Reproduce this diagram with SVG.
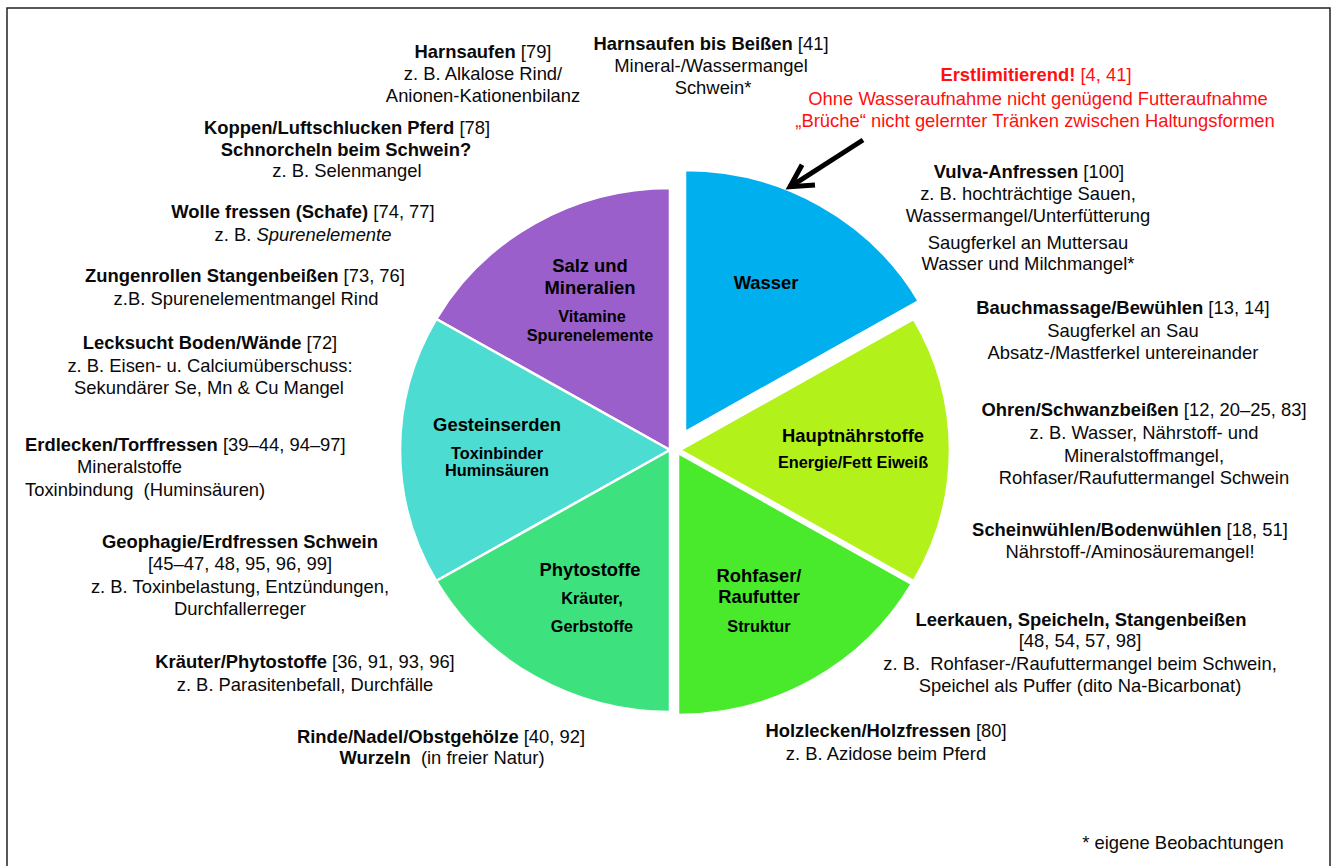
<svg xmlns="http://www.w3.org/2000/svg" width="1337" height="866" viewBox="0 0 1337 866">
<style>
text{font-family:"Liberation Sans",Arial,Helvetica,sans-serif;font-size:18.4px;fill:#0a0a0a;text-anchor:middle}
.b{font-weight:bold}
.r{fill:#ff1010}
.l{text-anchor:start}
.lab{font-weight:bold;font-size:18.4px;fill:#000}
.sub{font-weight:bold;font-size:16.3px;fill:#000}
.sl{stroke:#fff;stroke-width:2.5;stroke-linejoin:miter}
.arr{stroke:#000;stroke-width:5;fill:none}
</style>
<defs>
<marker id="chev" markerUnits="userSpaceOnUse" markerWidth="60" markerHeight="60" refX="0" refY="0" orient="auto" overflow="visible" viewBox="-30 -30 60 60">
<path d="M-22,-12 L0,0 L-22,12" fill="none" stroke="#000" stroke-width="5" stroke-linejoin="miter" stroke-linecap="butt"/>
</marker>
</defs>
<rect x="7" y="8" width="1323" height="880" fill="#fff" stroke="#222" stroke-width="1.5"/>

<g id="pie">
<g id="slice-salz"><path class="sl" fill="#9b5fcb" d="M670,450 L670,188 A270,262 0 0,0 436.2,319 Z"/>
<text class="lab" x="590" y="272">Salz und</text><text class="lab" x="590" y="294">Mineralien</text>
<text class="sub" x="592" y="322">Vitamine</text><text class="sub" x="590" y="341">Spurenelemente</text></g>
<g id="slice-gestein"><path class="sl" fill="#4cdcd1" d="M670,450 L436.2,319 A270,262 0 0,0 436.2,581 Z"/>
<text class="lab" x="497" y="431">Gesteinserden</text>
<text class="sub" x="497" y="459">Toxinbinder</text><text class="sub" x="497" y="476">Huminsäuren</text></g>
<g id="slice-phyto"><path class="sl" fill="#3de27f" d="M670,450 L436.2,581 A270,262 0 0,0 670,712 Z"/>
<text class="lab" x="590" y="576">Phytostoffe</text>
<text class="sub" x="592" y="604">Kräuter,</text><text class="sub" x="592" y="632">Gerbstoffe</text></g>
<g id="slice-rohfaser"><path class="sl" fill="#48ea2b" d="M678,453 L678,715 A270,262 0 0,0 911.8,584 Z"/>
<text class="lab" x="759" y="582">Rohfaser/</text><text class="lab" x="759" y="603">Raufutter</text>
<text class="sub" x="759" y="632">Struktur</text></g>
<g id="slice-haupt"><path class="sl" fill="#b2f21a" d="M680,450 L913.8,581 A270,262 0 0,0 913.8,319 Z"/>
<text class="lab" x="853" y="442">Hauptnährstoffe</text>
<text class="sub" x="853" y="468">Energie/Fett Eiweiß</text></g>
<g id="slice-wasser"><path class="sl" fill="#00afee" d="M685,432 L918.8,301 A270,262 0 0,0 685,170 Z"/>
<text class="lab" x="766" y="289">Wasser</text></g>
</g>

<g id="connectors">
<path class="arr" d="M863,140 L790,186.8" marker-end="url(#chev)"/>
</g>

<g id="t-harnsaufen"><text x="483" y="58"><tspan class="b">Harnsaufen</tspan> [79]</text>
<text x="483" y="80">z. B. Alkalose Rind/</text><text x="483" y="102">Anionen-Kationenbilanz</text></g>
<g id="t-harnsaufen-beissen"><text x="711" y="50"><tspan class="b">Harnsaufen bis Beißen</tspan> [41]</text>
<text x="711" y="72">Mineral-/Wassermangel</text><text x="713" y="94">Schwein*</text></g>
<g id="t-erstlimitierend"><text class="r" x="1036" y="81"><tspan class="b">Erstlimitierend!</tspan> [4, 41]</text>
<text class="r" x="1038" y="105">Ohne Wasseraufnahme nicht genügend Futteraufnahme</text>
<text class="r" x="1035" y="127">„Brüche“ nicht gelernter Tränken zwischen Haltungsformen</text></g>
<g id="t-koppen"><text x="347" y="134"><tspan class="b">Koppen/Luftschlucken Pferd</tspan> [78]</text>
<text class="b" x="346" y="156">Schnorcheln beim Schwein?</text><text x="347" y="177">z. B. Selenmangel</text></g>
<g id="t-wolle"><text x="303" y="218"><tspan class="b">Wolle fressen (Schafe)</tspan> [74, 77]</text>
<text x="303" y="241">z. B. <tspan font-style="italic">Spurenelemente</tspan></text></g>
<g id="t-zungen"><text x="245" y="282"><tspan class="b">Zungenrollen Stangenbeißen</tspan> [73, 76]</text>
<text x="246" y="305">z.B. Spurenelementmangel Rind</text></g>
<g id="t-lecksucht"><text x="210" y="349"><tspan class="b">Lecksucht Boden/Wände</tspan> [72]</text>
<text x="210" y="372">z. B. Eisen- u. Calciumüberschuss:</text><text x="209" y="394">Sekundärer Se, Mn &amp; Cu Mangel</text></g>
<g id="t-erdlecken"><text class="l" x="25" y="451"><tspan class="b">Erdlecken/Torffressen</tspan> [39–44, 94–97]</text>
<text class="l" x="77" y="473">Mineralstoffe</text><text class="l" x="25" y="496" xml:space="preserve">Toxinbindung  (Huminsäuren)</text></g>
<g id="t-geophagie"><text class="b" x="240" y="548">Geophagie/Erdfressen Schwein</text>
<text x="240" y="570">[45–47, 48, 95, 96, 99]</text><text x="240" y="593">z. B. Toxinbelastung, Entzündungen,</text>
<text x="240" y="615">Durchfallerreger</text></g>
<g id="t-kraeuter"><text x="305" y="668"><tspan class="b">Kräuter/Phytostoffe</tspan> [36, 91, 93, 96]</text>
<text x="305" y="691">z. B. Parasitenbefall, Durchfälle</text></g>
<g id="t-rinde"><text x="441" y="743"><tspan class="b">Rinde/Nadel/Obstgehölze</tspan> [40, 92]</text>
<text x="442" y="764" xml:space="preserve"><tspan class="b">Wurzeln</tspan>  (in freier Natur)</text></g>
<g id="t-vulva"><text x="1029" y="178"><tspan class="b">Vulva-Anfressen</tspan> [100]</text>
<text x="1028" y="200">z. B. hochträchtige Sauen,</text><text x="1028" y="222">Wassermangel/Unterfütterung</text>
<text x="1028" y="249">Saugferkel an Muttersau</text><text x="1028" y="270">Wasser und Milchmangel*</text></g>
<g id="t-bauch"><text x="1123" y="314"><tspan class="b">Bauchmassage/Bewühlen</tspan> [13, 14]</text>
<text x="1123" y="337">Saugferkel an Sau</text><text x="1123" y="359">Absatz-/Mastferkel untereinander</text></g>
<g id="t-ohren"><text x="1144" y="416"><tspan class="b">Ohren/Schwanzbeißen</tspan> [12, 20–25, 83]</text>
<text x="1144" y="439">z. B. Wasser, Nährstoff- und</text><text x="1144" y="462">Mineralstoffmangel,</text>
<text x="1144" y="484">Rohfaser/Raufuttermangel Schwein</text></g>
<g id="t-schein"><text x="1130" y="536"><tspan class="b">Scheinwühlen/Bodenwühlen</tspan> [18, 51]</text>
<text x="1130" y="558">Nährstoff-/Aminosäuremangel!</text></g>
<g id="t-leerkauen"><text class="b" x="1081" y="626">Leerkauen, Speicheln, Stangenbeißen</text>
<text x="1080" y="647">[48, 54, 57, 98]</text>
<text x="1080" y="670" xml:space="preserve">z. B.  Rohfaser-/Raufuttermangel beim Schwein,</text>
<text x="1080" y="692">Speichel als Puffer (dito Na-Bicarbonat)</text></g>
<g id="t-holz"><text x="886" y="737"><tspan class="b">Holzlecken/Holzfressen</tspan> [80]</text>
<text x="886" y="760">z. B. Azidose beim Pferd</text></g>
<g id="t-footnote"><text x="1183" y="849">* eigene Beobachtungen</text></g>
</svg>
